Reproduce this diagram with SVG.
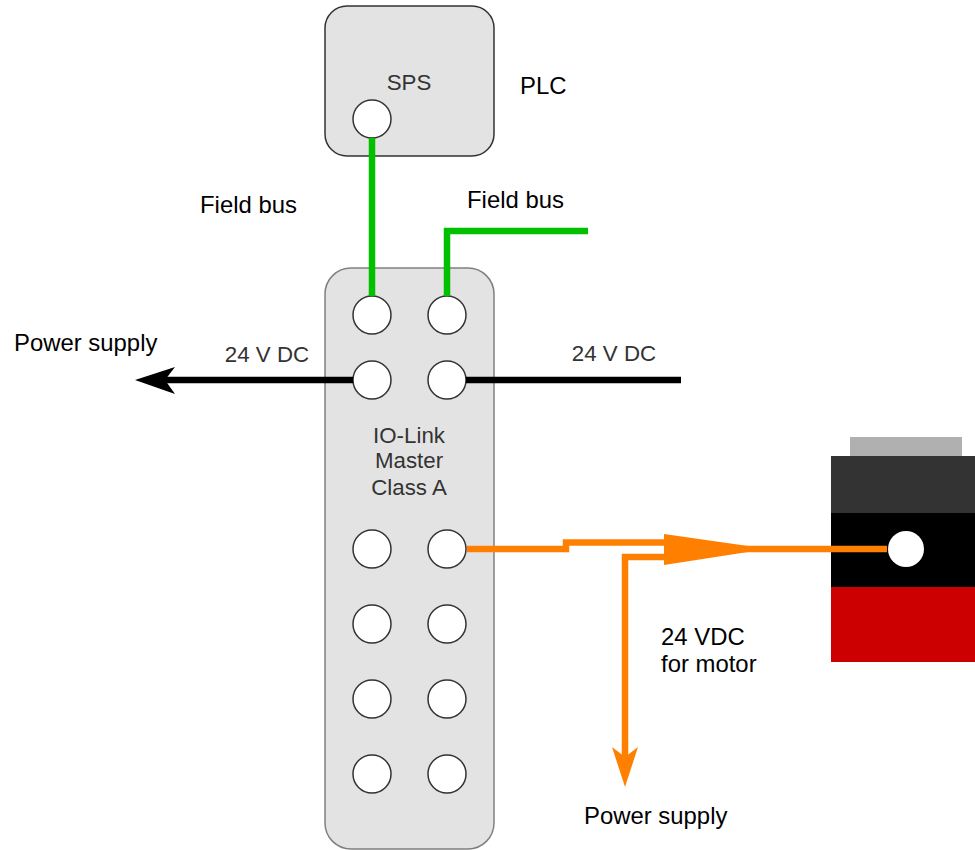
<svg xmlns="http://www.w3.org/2000/svg" width="975" height="850" viewBox="0 0 975 850">
<style>
text{font-family:"Liberation Sans",Arial,sans-serif;font-size:23.9px;fill:#000}
.g{fill:#333;text-anchor:middle;font-size:22.3px}
.box{fill:#e3e3e3;stroke:#333;stroke-width:1.5}
.m{stroke:#808080}
.p{fill:#fff;stroke:#333;stroke-width:1.5}
.l{fill:none;stroke-width:6.5}
</style>
<rect width="975" height="850" fill="#fff"/>
<g id="plc"><rect class="box" x="325" y="6" width="169" height="150" rx="22"/><text class="g" x="409" y="90">SPS</text><circle class="p" cx="372" cy="119" r="19"/></g>
<g id="master"><rect class="box m" x="325" y="268" width="169" height="581" rx="26"/>
<circle class="p" cx="372" cy="315" r="19"/><circle class="p" cx="447" cy="315" r="19"/>
<circle class="p" cx="372" cy="380" r="19"/><circle class="p" cx="447" cy="380" r="19"/>
<circle class="p" cx="372" cy="549" r="19"/><circle class="p" cx="447" cy="549" r="19"/>
<circle class="p" cx="372" cy="624" r="19"/><circle class="p" cx="447" cy="624" r="19"/>
<circle class="p" cx="372" cy="699" r="19"/><circle class="p" cx="447" cy="699" r="19"/>
<circle class="p" cx="372" cy="774" r="19"/><circle class="p" cx="447" cy="774" r="19"/>
<text class="g" x="409" y="443">IO-Link</text><text class="g" x="409" y="468">Master</text><text class="g" x="409" y="495">Class A</text></g>
<g id="motor"><rect x="850" y="437" width="112" height="19" fill="#b0b0b0"/><rect x="831" y="456" width="144" height="57" fill="#333"/><rect x="831" y="513" width="144" height="74" fill="#000"/><rect x="831" y="587" width="144" height="75" fill="#c00"/><circle cx="906" cy="549" r="18" fill="#fff"/></g>
<g id="connectors">
<path class="l" stroke="#00c000" d="M372 138V296M447 296V231H588"/>
<path class="l" stroke="#000" d="M353 380H165M466 380H681"/>
<path fill="#000" d="M135 380L175 367L165 380L175 394Z"/>
<path class="l" stroke="#ff8000" d="M467 549H566V542.500H664M740 549H887M664 557H625V757"/>
<path fill="#ff8000" d="M664 534L748 546V552L664 565ZM625 787L612 747L625 757L638 747Z"/>
</g>
<g id="labels">
<text x="520" y="94">PLC</text><text x="200" y="213">Field bus</text><text x="467" y="208">Field bus</text><text x="14" y="351">Power supply</text>
<text class="g" x="267" y="362">24 V DC</text><text class="g" x="614" y="361">24 V DC</text>
<text x="661" y="645">24 VDC</text><text x="661" y="672">for motor</text><text x="584" y="824">Power supply</text></g>
</svg>
